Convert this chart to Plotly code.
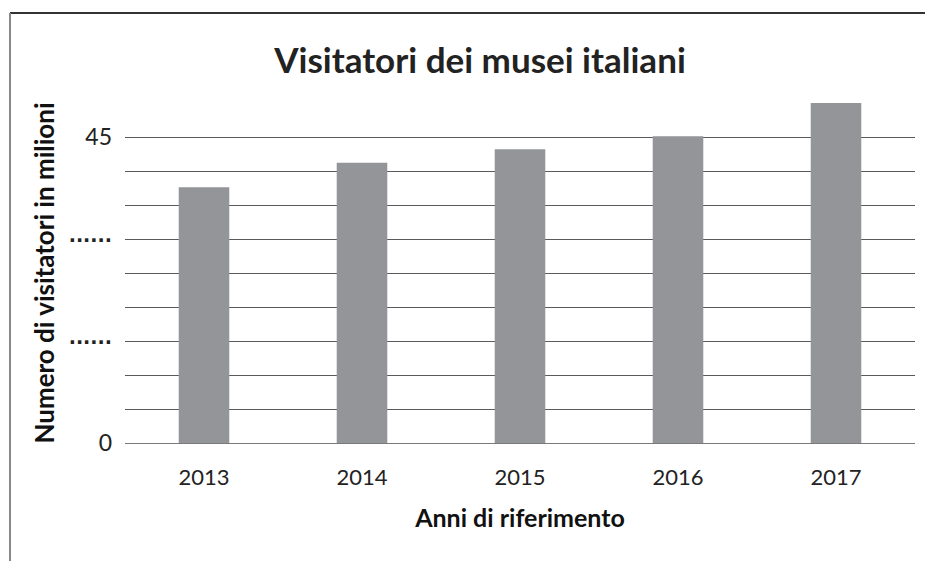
import plotly.graph_objects as go

years = ["2013", "2014", "2015", "2016", "2017"]
visitors = [37.6, 41.2, 43.2, 45.1, 50.0]
tick_values = [0, 5, 10, 15, 20, 25, 30, 35, 40, 45, 50]
DOTS = "<span style='font-family:DejaVu Sans;font-weight:bold;font-size:19px'>······</span>"
tick_labels = ["0", "", "", DOTS, "", "", DOTS, "", "", "45", ""]

FONT = "Lato"

fig = go.Figure()
fig.add_trace(go.Bar(
    x=years, y=visitors,
    marker=dict(color="#939598", line=dict(width=0)),
    hoverinfo="x+y",
))

# plot area in px: x 125..915, y 103..443
L, R, T, B = 125, 10, 103, 118
W, H = 925, 561
pw = W - L - R
ph = H - T - B

def px_x(x):
    return (x - L) / pw

def px_y(y):
    return (H - B - y) / ph

fig.update_layout(
    width=W, height=H,
    margin=dict(l=L, r=R, t=T, b=B),
    paper_bgcolor="white", plot_bgcolor="white",
    bargap=0.68,
    showlegend=False,
    font=dict(family=FONT, color="#222222"),
    title=dict(
        text="<b>Visitatori dei musei italiani</b>",
        x=480 / W, xref="container", xanchor="center",
        y=1 - 61 / H, yref="container", yanchor="middle",
        font=dict(family=FONT, size=35, color="#222222"),
    ),
    xaxis=dict(
        showgrid=False, showline=False, ticks="",
        tickfont=dict(family=FONT, size=22, color="#222222"),
        ticklabelstandoff=19,
        title=dict(text="<b>Anni di riferimento</b>",
                   font=dict(family=FONT, size=25, color="#111111"), standoff=20),
    ),
    yaxis=dict(
        range=[0, 50],
        tickmode="array", tickvals=tick_values, ticktext=tick_labels,
        showgrid=True, gridcolor="#5a5a5a", gridwidth=1,
        zeroline=True, zerolinecolor="#7a7a7a", zerolinewidth=1,
        showline=False, ticks="",
        tickfont=dict(family=FONT, size=23, color="#222222"),
        ticklabelstandoff=12,
        title=dict(text="<b>Numero di visitatori in milioni</b>",
                   font=dict(family=FONT, size=26, color="#111111"), standoff=6),
    ),
    shapes=[
        dict(type="line", xref="paper", yref="paper",
             x0=px_x(10), x1=px_x(925), y0=px_y(13), y1=px_y(13),
             line=dict(color="#333333", width=2)),
        dict(type="line", xref="paper", yref="paper",
             x0=px_x(10), x1=px_x(10), y0=px_y(13), y1=px_y(561),
             line=dict(color="#888888", width=2)),
    ],
)

fig.write_html("out.html", config={"displayModeBar": False},
               post_script="document.body.style.margin='0';")
